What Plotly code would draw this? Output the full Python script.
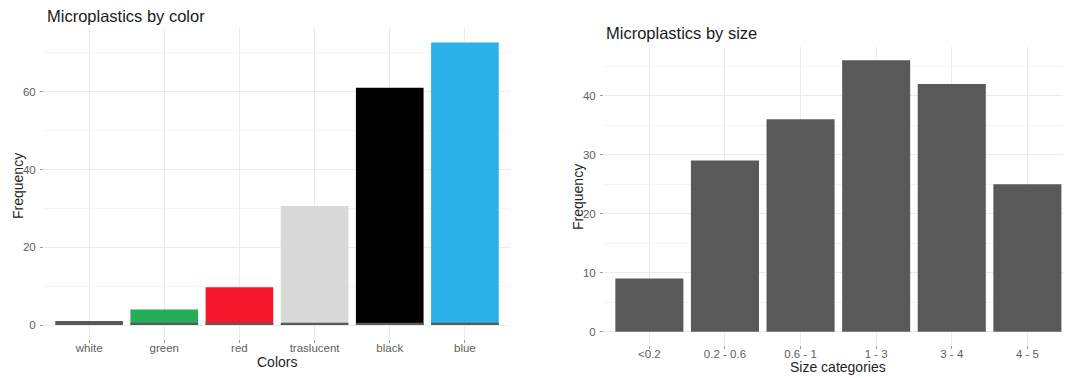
import plotly.graph_objects as go

# ---- data ----
color_categories = ["white", "green", "red", "traslucent", "black", "blue"]
color_counts = [1, 4, 9.7, 30.6, 61, 72.7]
color_fills = ["#595959", "#25ae5a", "#f6172b", "#d9d9d9", "#000000", "#2cb0e8"]
base_strip = [0, 0.6, 0.6, 0.6, 0.6, 0.6]

size_categories = ["<0.2", "0.2 - 0.6", "0.6 - 1", "1 - 3", "3 - 4", "4 - 5"]
size_counts = [9, 29, 36, 46, 42, 25]

# page body has an 8px margin; size the figure so it fits the 1071x378 window
OFF = 8
W, H = 1071 - OFF, 378 - OFF
FONT = "Liberation Sans, Arial, sans-serif"

fig = go.Figure()
fig.add_trace(go.Bar(x=color_categories, y=color_counts, marker=dict(color=color_fills, line=dict(width=0)),
                     width=0.9, xaxis="x", yaxis="y", showlegend=False))
fig.add_trace(go.Bar(x=color_categories, y=base_strip, marker=dict(color="#5a5a5a", line=dict(width=0)),
                     width=0.9, xaxis="x", yaxis="y", showlegend=False))
fig.add_trace(go.Bar(x=size_categories, y=size_counts, marker=dict(color="#595959", line=dict(width=0)),
                     width=0.9, xaxis="x2", yaxis="y2", showlegend=False))

def px_x(p):
    return min(1.0, (p - OFF) / W)

def px_y(p):
    return 1 - (p - OFF) / H

grid = "#ebebeb"
minor = dict(showgrid=True, gridcolor="#f4f4f4", gridwidth=1)
tickfont = dict(family=FONT, size=11.5, color="#5e5e5e")

common_x = dict(showline=False, zeroline=False, showgrid=True, gridcolor=grid, gridwidth=1, automargin=False,
                ticks="outside", ticklen=3, tickcolor="#9a9a9a", tickfont=tickfont, fixedrange=True,
                ticklabelstandoff=-5)
common_y = dict(showline=False, zeroline=False, showgrid=True, gridcolor=grid, gridwidth=1, automargin=False,
                ticks="outside", ticklen=3, tickcolor="#9a9a9a", tickfont=tickfont, ticklabelstandoff=2)

fig.update_layout(
    width=W, height=H,
    margin=dict(l=0, r=0, t=0, b=0, autoexpand=False),
    paper_bgcolor="white", plot_bgcolor="white",
    barmode="overlay", bargap=0.1,
    font=dict(family=FONT),
    xaxis=dict(common_x, domain=[px_x(44), px_x(510)], range=[-0.6, 5.6], anchor="y",
               categoryorder="array", categoryarray=color_categories),
    yaxis=dict(common_y, domain=[px_y(339), px_y(28)], range=[-3.6, 76.4], anchor="x",
               dtick=20, tick0=0, minor=dict(minor, dtick=10)),
    xaxis2=dict(common_x, domain=[px_x(604), 1], range=[-0.6, 5.577], anchor="y2",
                categoryorder="array", categoryarray=size_categories),
    yaxis2=dict(common_y, domain=[px_y(345.3), px_y(46.7)], range=[-2.3, 48.3], anchor="x2",
                dtick=10, tick0=0, minor=dict(minor, dtick=5)),
)

title_font = dict(family=FONT, size=16.5, color="#1a1a1a")
axis_font = dict(family=FONT, size=14, color="#1f1f1f")
ann = [
    dict(text="Microplastics by color", x=px_x(45), y=px_y(16), xanchor="left", yanchor="middle", font=title_font),
    dict(text="Microplastics by size", x=px_x(604), y=px_y(33), xanchor="left", yanchor="middle", font=title_font),
    dict(text="Colors", x=px_x(277), y=px_y(362), xanchor="center", yanchor="middle", font=axis_font),
    dict(text="Size categories", x=px_x(838), y=px_y(367), xanchor="center", yanchor="middle", font=axis_font),
    dict(text="Frequency", x=px_x(18), y=px_y(186), xanchor="center", yanchor="middle", textangle=-90, font=axis_font),
    dict(text="Frequency", x=px_x(578), y=px_y(197), xanchor="center", yanchor="middle", textangle=-90, font=axis_font),
]
for a in ann:
    a.update(xref="paper", yref="paper", showarrow=False)
fig.update_layout(annotations=ann)

fig.write_html("out.html")
